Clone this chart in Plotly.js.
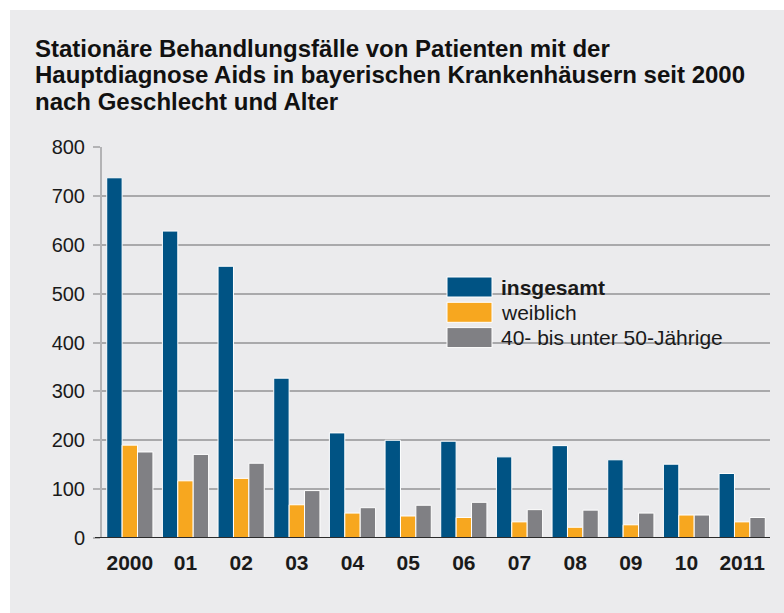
<!DOCTYPE html>
<html>
<head>
<meta charset="utf-8">
<script src="https://cdn.plot.ly/plotly-3.0.1.min.js"></script>
<style>html,body{margin:0;padding:0;background:#fff;}#chart{width:784px;height:613px;}</style>
</head>
<body>
<div id="chart"></div>
<script>
const categories = ["2000","01","02","03","04","05","06","07","08","09","10","2011"];
const insgesamt = [737, 628, 556, 327, 215, 200, 198, 166, 189, 160, 151, 132];
const weiblich  = [190, 117, 122, 68, 51, 45, 42, 33, 22, 27, 47, 33];
const alter4050 = [176, 171, 153, 97, 62, 67, 73, 58, 57, 51, 47, 42];
const seriesNames = ["insgesamt", "weiblich", "40- bis unter 50-Jährige"];
const seriesColors = ["#005384", "#f7a71f", "#808084"];
const yTicks = [0, 100, 200, 300, 400, 500, 600, 700, 800];
const titleLines = [
  "Stationäre Behandlungsfälle von Patienten mit der",
  "Hauptdiagnose Aids in bayerischen Krankenhäusern seit 2000",
  "nach Geschlecht und Alter"
];

const FONT = "Liberation Sans, Arial, Helvetica, sans-serif";
const seriesData = [insgesamt, weiblich, alter4050];

const traces = seriesData.map((vals, i) => ({
  type: "bar",
  x: categories,
  y: vals,
  name: seriesNames[i],
  marker: {color: seriesColors[i], line: {color: "#ffffff", width: 1}},
  hoverinfo: "x+y+name",
  showlegend: false
}));

// plot area geometry in px
const L = 102, R = 14, T = 147, B = 75;
const W = 784 - L - R, H = 613 - T - B;
const px = x => (x - L) / W;
const py = y => (613 - B - y) / H;

const shapes = [
  // white frame strips (top and left)
  {type: "rect", xref: "paper", yref: "paper", x0: px(0), x1: px(784), y0: py(10), y1: py(-2), fillcolor: "#ffffff", line: {width: 0}, layer: "below"},
  {type: "rect", xref: "paper", yref: "paper", x0: px(-2), x1: px(10), y0: py(615), y1: py(-2), fillcolor: "#ffffff", line: {width: 0}, layer: "below"},
  // baseline
  {type: "line", xref: "paper", yref: "y", x0: px(95), x1: px(770), y0: 0, y1: 0, line: {color: "#2b2b2b", width: 2}}
];
const annotations = [];
// title, one annotation per line (tight leading as in the original)
titleLines.forEach((line, i) => {
  annotations.push({xref: "paper", yref: "paper", x: px(33), y: py(49 + i * 26), xanchor: "left", yanchor: "middle",
    text: "<b>" + line + "</b>", showarrow: false, font: {family: FONT, size: 24, color: "#111111"}});
});
// legend
seriesNames.forEach((name, i) => {
  const top = 277 + i * 25.3;
  shapes.push({type: "rect", xref: "paper", yref: "paper", x0: px(447), x1: px(492), y0: py(top + 20), y1: py(top),
    fillcolor: seriesColors[i], line: {color: "#ffffff", width: 1}});
  annotations.push({xref: "paper", yref: "paper", x: px(499), y: py(top + 10), xanchor: "left", yanchor: "middle",
    text: i === 0 ? "<b>" + name + "</b>" : name, showarrow: false, font: {family: FONT, size: 21, color: "#1a1a1a"}});
});

const layout = {
  width: 784, height: 613,
  paper_bgcolor: "#ebebed",
  plot_bgcolor: "rgba(0,0,0,0)",
  margin: {l: L, r: R, t: T, b: B, pad: 0},
  barmode: "group",
  bargap: 0.17,
  bargroupgap: 0,
  xaxis: {
    type: "category",
    tickvals: categories, ticktext: categories,
    showgrid: false, zeroline: false, showline: false, ticks: "",
    tickfont: {family: FONT, size: 21, color: "#1a1a1a", weight: "bold"},
    ticklabelstandoff: 10
  },
  yaxis: {
    range: [0, 800], tickvals: yTicks, ticktext: yTicks.map(String),
    showgrid: true, gridcolor: "#a9a9ab", gridwidth: 2,
    zeroline: false, showline: true, linecolor: "#b3b3b5", linewidth: 2,
    ticks: "outside", ticklen: 7, tickcolor: "#b3b3b5", tickwidth: 2,
    tickfont: {family: FONT, size: 20, color: "#1a1a1a"},
    ticklabelstandoff: 4
  },
  shapes: shapes,
  annotations: annotations,
  showlegend: false
};

Plotly.newPlot("chart", traces, layout, {displayModeBar: false, staticPlot: true});
</script>
</body>
</html>
